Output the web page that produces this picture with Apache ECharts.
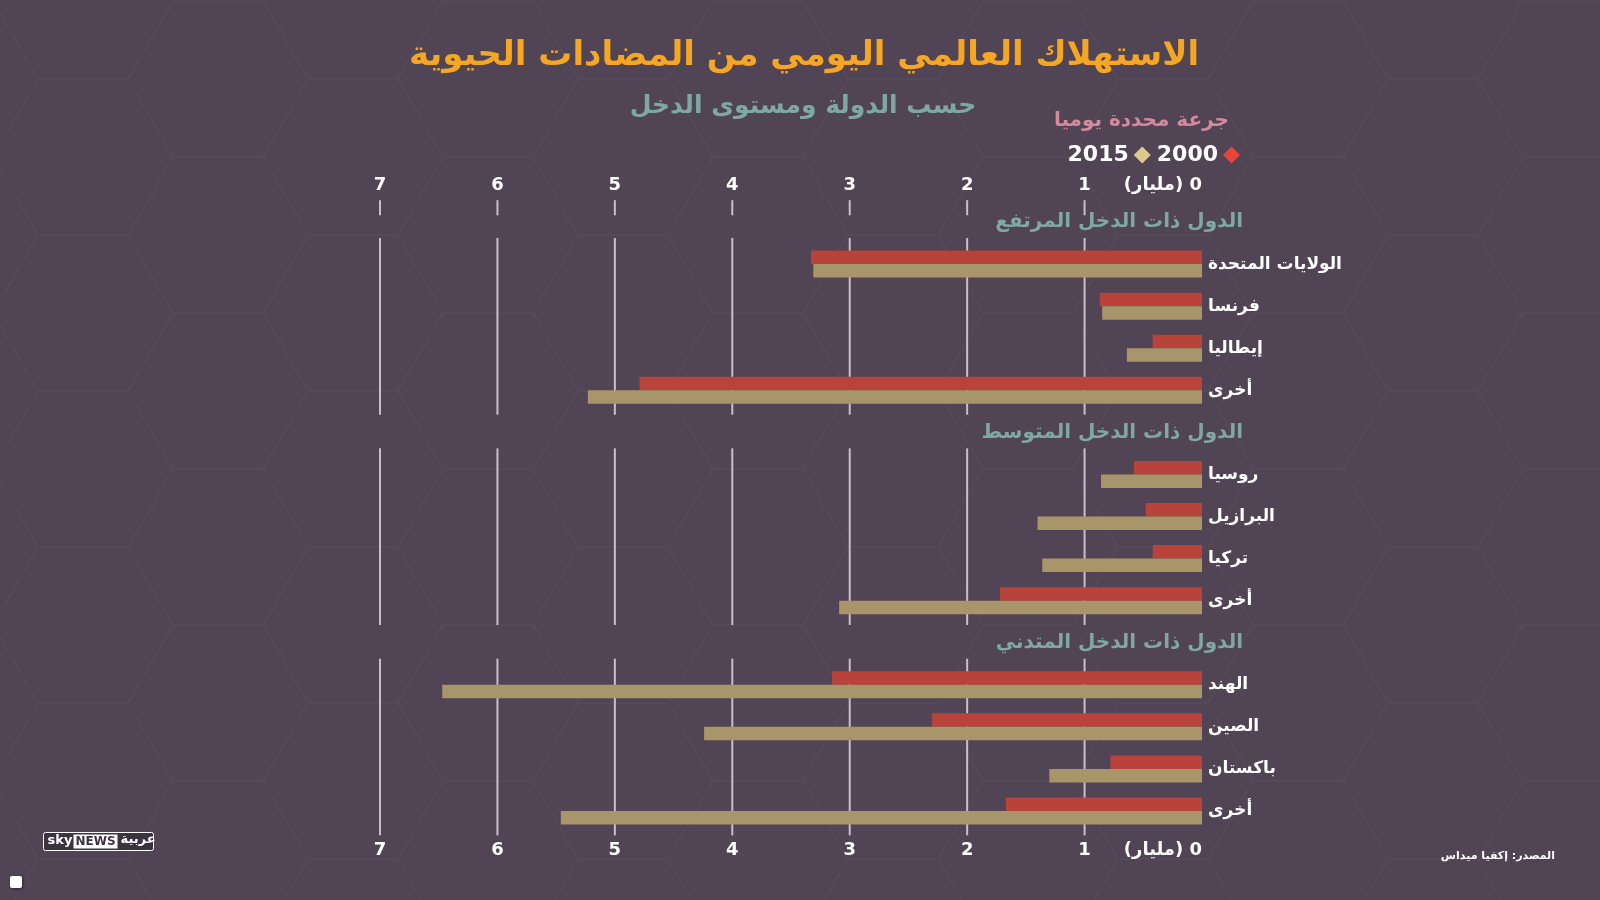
<!DOCTYPE html>
<html><head><meta charset="utf-8">
<script src="https://cdn.jsdelivr.net/npm/echarts@6/dist/echarts.min.js"></script>
<style>html,body{margin:0;padding:0;background:#514455;}#c{width:1600px;height:900px;}</style>
</head><body><div id="c"></div>
<script>
const groupNames = ['الدول ذات الدخل المرتفع', 'الدول ذات الدخل المتوسط', 'الدول ذات الدخل المتدني'];
const countryNames = [
  ['الولايات المتحدة', 'فرنسا', 'إيطاليا', 'أخرى'],
  ['روسيا', 'البرازيل', 'تركيا', 'أخرى'],
  ['الهند', 'الصين', 'باكستان', 'أخرى']
];
const values2000 = [[3.33, 0.87, 0.42, 4.79], [0.58, 0.48, 0.42, 1.72], [3.15, 2.30, 0.78, 1.67]];
const values2015 = [[3.31, 0.85, 0.64, 5.23], [0.86, 1.40, 1.36, 3.09], [6.47, 4.24, 1.30, 5.46]];
const tickValues = [0, 1, 2, 3, 4, 5, 6, 7];
const unitLabel = '(مليار) 0';
const seriesNames = ['2000', '2015'];

// build slots: heading + 4 countries per group
const slotKeys = [], slotCountry = [], slotHeading = [], d2000 = [], d2015 = [];
groupNames.forEach((g, gi) => {
  slotKeys.push('s' + slotKeys.length); slotCountry.push(''); slotHeading.push(g); d2000.push('-'); d2015.push('-');
  countryNames[gi].forEach((c, ci) => {
    slotKeys.push('s' + slotKeys.length); slotCountry.push(c); slotHeading.push('');
    d2000.push(values2000[gi][ci]); d2015.push(values2015[gi][ci]);
  });
});
const nSlots = slotKeys.length;
// gridline segments per group (in slot units) + top ticks
const segData = [];
tickValues.forEach(t => {
  if (t === 0) return;
  groupNames.forEach((g, gi) => segData.push([t, gi * 5 + 0.88, gi * 5 + 5.08]));
  segData.push([t, -0.02, 0.34]);
});

const FONT = "'DejaVu Sans', 'Noto Sans', sans-serif";
const chart = echarts.init(document.getElementById('c'), null, {renderer: 'canvas'});

// honeycomb background
const hexes = [];
const s = 90, dx = 135, dy = 156;
for (let col = -1; col < 14; col++) {
  for (let row = -1; row < 8; row++) {
    const cx = 83 + col * dx, cy = 157 + row * dy + (col % 2 !== 0 ? dy / 2 : 0);
    const pts = [];
    for (let k = 0; k < 6; k++) {
      const a = Math.PI / 3 * k;
      pts.push([cx + s * Math.cos(a), cy + s * Math.sin(a)]);
    }
    hexes.push({type: 'polygon', silent: true, z: -10, shape: {points: pts},
      style: {fill: null, stroke: '#56495a', lineWidth: 1.5}});
  }
}

const option = {
  backgroundColor: '#514455',
  animation: false,
  title: [
    {text: 'الاستهلاك العالمي اليومي من المضادات الحيوية', left: 799, top: 34, textAlign: 'center',
      textStyle: {color: '#f5a623', fontSize: 34, fontWeight: 'bold', fontFamily: FONT}},
    {text: 'حسب الدولة ومستوى الدخل', left: 798, top: 89, textAlign: 'center',
      textStyle: {color: '#7fa7a3', fontSize: 25, fontWeight: 'bold', fontFamily: FONT}},
    {text: 'جرعة محددة يوميا', right: 366, top: 106,
      textStyle: {color: '#d4899d', fontSize: 20, fontWeight: 'bold', fontFamily: FONT}},
    {text: 'المصدر: إكفيا ميداس', right: 40, top: 846,
      textStyle: {color: '#ffffff', fontSize: 11, fontWeight: 'bold', fontFamily: FONT}}
  ],
  legend: {
    data: [
      {name: '2015', itemStyle: {color: '#dcc98c'}},
      {name: '2000', itemStyle: {color: '#e8453a'}}
    ],
    right: 355, top: 139, align: 'right', icon: 'diamond', itemWidth: 17, itemHeight: 17, itemGap: 6,
    textStyle: {color: '#ffffff', fontSize: 22, fontWeight: 'bold', fontFamily: FONT}
  },
  grid: {left: 380, right: 398, top: 201, bottom: 68, containLabel: false},
  xAxis: [
    {type: 'value', position: 'top', min: 0, max: 7, interval: 1, inverse: true,
      axisLine: {show: false}, axisTick: {show: false}, splitLine: {show: false},
      axisLabel: {margin: 7, color: '#ffffff', fontSize: 18, fontWeight: 'bold', fontFamily: FONT,
        alignMinLabel: 'right',
        formatter: v => v === 0 ? unitLabel : String(v)}},
    {type: 'value', position: 'bottom', min: 0, max: 7, interval: 1, inverse: true,
      axisLine: {show: false}, axisTick: {show: false}, splitLine: {show: false},
      axisLabel: {margin: 9, color: '#ffffff', fontSize: 18, fontWeight: 'bold', fontFamily: FONT,
        alignMinLabel: 'right',
        formatter: v => v === 0 ? unitLabel : String(v)}}
  ],
  yAxis: [
    {type: 'category', data: slotKeys, inverse: true, position: 'right',
      axisLine: {show: false}, axisTick: {show: false}, splitLine: {show: false},
      axisLabel: {interval: 0, margin: 6, align: 'left', color: '#ffffff', fontSize: 17, fontWeight: 'bold', fontFamily: FONT,
        formatter: (v, i) => slotCountry[i]}},
    {type: 'category', data: slotKeys, inverse: true, position: 'right',
      axisLine: {show: false}, axisTick: {show: false}, splitLine: {show: false},
      axisLabel: {interval: 0, margin: 41, align: 'right', color: '#7fa7a3', fontSize: 20, fontWeight: 'bold', fontFamily: FONT,
        formatter: (v, i) => slotHeading[i]}},
    {type: 'value', min: 0, max: nSlots, inverse: true, show: false}
  ],
  series: [
    {type: 'custom', name: 'grid', xAxisIndex: 0, yAxisIndex: 2, data: segData, silent: true, z: 1, clip: false,
      renderItem: (params, api) => {
        const p1 = api.coord([api.value(0), api.value(1)]);
        const p2 = api.coord([api.value(0), api.value(2)]);
        return {type: 'line', shape: {x1: p1[0], y1: p1[1], x2: p2[0], y2: p2[1]},
          style: {stroke: '#c9bfcc', lineWidth: 2}};
      }},
    {type: 'bar', name: seriesNames[0], data: d2000, xAxisIndex: 0, yAxisIndex: 0,
      barWidth: 13.5, barGap: '0%', itemStyle: {color: '#b9433a'}, z: 3},
    {type: 'bar', name: seriesNames[1], data: d2015, xAxisIndex: 0, yAxisIndex: 0,
      barWidth: 13.5, barGap: '0%', itemStyle: {color: '#a8956a'}, z: 3}
  ],
  graphic: hexes.concat([
    {type: 'group', left: 43, top: 832, children: [
      {type: 'rect', shape: {x: 0, y: 0, width: 110, height: 18, r: 2}, style: {fill: '#3c3340', stroke: '#ffffff', lineWidth: 1}},
      {type: 'text', x: 4, y: 2, style: {text: 'sky', fill: '#ffffff', font: 'bold 13px ' + FONT}},
      {type: 'rect', shape: {x: 30, y: 2, width: 44, height: 14}, style: {fill: '#ffffff'}},
      {type: 'text', x: 32, y: 3, style: {text: 'NEWS', fill: '#3c3340', font: 'bold 12px ' + FONT}},
      {type: 'text', x: 77, y: 1, style: {text: 'عربية', fill: '#ffffff', font: 'bold 13px ' + FONT}}
    ]},
    {type: 'rect', left: 10, top: 876, shape: {width: 12, height: 12, r: 2}, style: {fill: '#ffffff', shadowBlur: 3, shadowColor: 'rgba(0,0,0,0.5)', shadowOffsetX: 1, shadowOffsetY: 1}}
  ])
};
chart.setOption(option);
</script>
</body></html>
